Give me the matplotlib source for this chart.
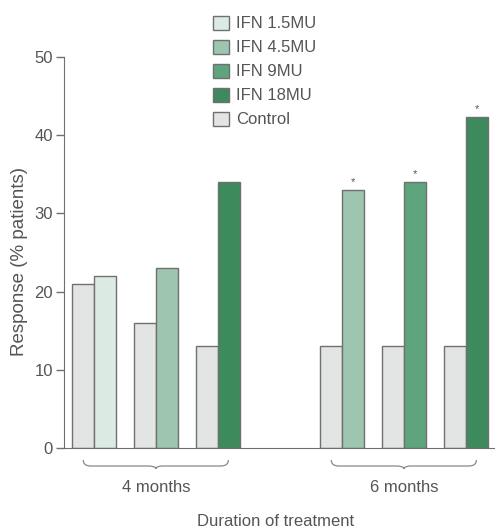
import matplotlib
matplotlib.use("Agg")
import matplotlib.pyplot as plt
from matplotlib.patches import Patch, PathPatch
from matplotlib.path import Path
import matplotlib.transforms as mtransforms

plt.rcParams['font.family'] = ['Liberation Sans', 'DejaVu Sans']

# ---- data ----
durations = ["4 months", "6 months"]
doses_4m = ["IFN 1.5MU", "IFN 4.5MU", "IFN 18MU"]
control_4m = [21, 16, 13]
ifn_4m = [22, 23, 34]
doses_6m = ["IFN 4.5MU", "IFN 9MU", "IFN 18MU"]
control_6m = [13, 13, 13]
ifn_6m = [33, 34, 42.3]
significant_6m = [True, True, True]
legend_labels = ["IFN 1.5MU", "IFN 4.5MU", "IFN 9MU", "IFN 18MU", "Control"]
yticks = [0, 10, 20, 30, 40, 50]

colors = {
    "IFN 1.5MU": "#dbebe4",
    "IFN 4.5MU": "#9ec5b0",
    "IFN 9MU": "#5ea47d",
    "IFN 18MU": "#3d8a5d",
    "Control": "#e3e4e4",
}
edge = "#707070"
txt = "#555555"
fs = 12

fig = plt.figure(figsize=(4.95, 5.29), dpi=100)
W, H = 495, 529
ax = fig.add_axes([64 / W, 1 - 448 / H, (495 - 64) / W, (448 - 57) / H])

bw = 0.355
groups = [(control_4m, ifn_4m, doses_4m, [False] * 3), (control_6m, ifn_6m, doses_6m, significant_6m)]
slot = 0
group_spans = []
for gi, (ctrl, ifn, doses, sig) in enumerate(groups):
    start = slot
    for c, v, d, s in zip(ctrl, ifn, doses, sig):
        ax.bar(slot - bw / 2, c, width=bw, color=colors["Control"], edgecolor=edge, linewidth=1.0)
        ax.bar(slot + bw / 2, v, width=bw, color=colors[d], edgecolor=edge, linewidth=1.0)
        if s:
            ax.text(slot + bw / 2, v + 0.4, "*", ha="center", va="bottom", fontsize=8, color=txt)
        slot += 1
    group_spans.append((start, slot - 1))
    slot += 1

ax.set_xlim(-0.48, 6.47)
ax.set_ylim(0, 50)
ax.set_yticks(yticks)
ax.set_xticks([])
for s in ["top", "right"]:
    ax.spines[s].set_visible(False)
ax.spines["left"].set_color(edge)
ax.spines["bottom"].set_color(edge)
ax.tick_params(axis="y", colors=edge, labelcolor=txt, labelsize=fs, length=6, width=1, pad=2)
ax.set_ylabel("Response (% patients)", color=txt, fontsize=13.5)
ax.yaxis.set_label_coords(-0.084, 0.476)

# braces
trans = mtransforms.blended_transform_factory(ax.transData, fig.transFigure)
for (a, b), label in zip(group_spans, durations):
    x0 = a - 0.17
    x1 = b + 0.17
    xm = (x0 + x1) / 2
    yt = 1 - 460 / H
    yb = 1 - 469 / H
    ymid = 1 - 466 / H
    dx = 0.12
    verts = [(x0, yt), (x0, ymid), (x0 + dx, ymid),
             (xm - dx, ymid), (xm, ymid), (xm, yb),
             (xm, ymid), (xm + dx, ymid),
             (x1 - dx, ymid), (x1, ymid), (x1, yt)]
    codes = [Path.MOVETO, Path.CURVE3, Path.CURVE3,
             Path.LINETO, Path.CURVE3, Path.CURVE3,
             Path.CURVE3, Path.CURVE3,
             Path.LINETO, Path.CURVE3, Path.CURVE3]
    fig.add_artist(PathPatch(Path(verts, codes), transform=trans, fill=False,
                             edgecolor="#888888", linewidth=0.9))
    fig.text(xm, 1 - 487 / H, label, transform=trans, ha="center", va="center",
             fontsize=fs, color=txt)

fig.text(276 / W, 1 - 521 / H, "Duration of treatment", ha="center", va="center",
         fontsize=fs, color=txt)

handles = [Patch(facecolor=colors[l], edgecolor=edge, linewidth=1.0) for l in legend_labels]
leg = fig.legend(handles, legend_labels, loc="upper left", bbox_to_anchor=(201 / W, 1 - 4 / H),
                 frameon=False, fontsize=fs, handlelength=0.95, handleheight=0.9,
                 labelspacing=0.5, handletextpad=0.45, borderpad=0.2)
for t in leg.get_texts():
    t.set_color(txt)

fig.savefig("out.png", dpi=100)
